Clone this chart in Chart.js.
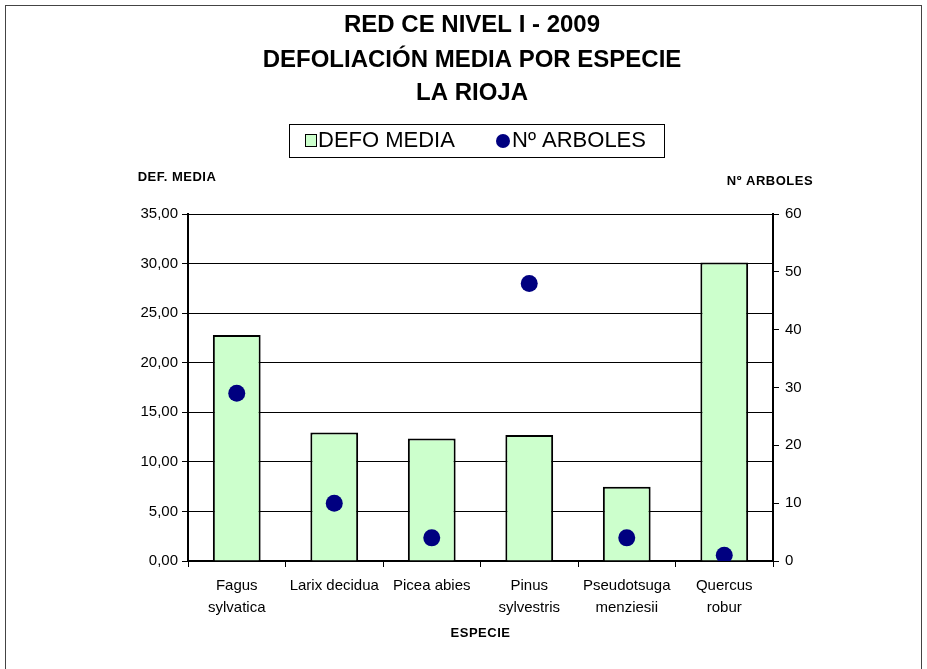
<!DOCTYPE html>
<html>
<head>
<meta charset="utf-8">
<script src="https://cdn.jsdelivr.net/npm/chart.js@4.4.1/dist/chart.umd.min.js"></script>
<style>
  body { margin: 0; background: #fff; }
  canvas { display: block; }
</style>
</head>
<body>
<canvas id="defoChart" width="927" height="669"></canvas>
<script>
const especies = [['Fagus', 'sylvatica'], 'Larix decidua', 'Picea abies', ['Pinus', 'sylvestris'], ['Pseudotsuga', 'menziesii'], ['Quercus', 'robur']];
const defoMedia = [22.8, 12.95, 12.35, 12.7, 7.5, 30.1];
const numArboles = [29, 10, 4, 48, 4, 1];
const titulo = ['RED CE NIVEL I - 2009', 'DEFOLIACIÓN MEDIA POR ESPECIE', 'LA RIOJA'];

const FONT = "'Liberation Sans', Arial, sans-serif";

// texts, frame and legend drawn around the chart area
const decorations = {
  id: 'decorations',
  beforeDraw(chart) {
    const ctx = chart.ctx;
    ctx.save();
    ctx.fillStyle = '#fff';
    ctx.fillRect(0, 0, chart.width, chart.height);
    ctx.restore();
  },
  afterDraw(chart) {
    const ctx = chart.ctx;
    const area = chart.chartArea;
    ctx.save();
    ctx.strokeStyle = '#444';
    ctx.lineWidth = 1;
    ctx.strokeRect(5.5, 5.5, 916, 700);

    ctx.fillStyle = '#000';
    ctx.textAlign = 'center';
    ctx.textBaseline = 'middle';
    ctx.letterSpacing = '0px';
    ctx.font = 'bold 24px ' + FONT;
    const ys = [25, 60, 93];
    titulo.forEach((t, i) => ctx.fillText(t, 472, ys[i]));

    // legend
    ctx.strokeStyle = '#000';
    ctx.strokeRect(289.5, 124.5, 375, 33);
    ctx.fillStyle = '#CCFFCC';
    ctx.fillRect(305, 134, 11, 12);
    ctx.strokeRect(305.5, 134.5, 11, 12);
    ctx.fillStyle = '#000';
    ctx.font = '22px ' + FONT;
    ctx.textAlign = 'left';
    ctx.fillText(chart.data.datasets[0].label, 318, 141);
    ctx.fillStyle = '#000080';
    ctx.beginPath();
    ctx.arc(503, 141, 7, 0, Math.PI * 2);
    ctx.fill();
    ctx.fillStyle = '#000';
    ctx.fillText(chart.data.datasets[1].label, 512, 141);

    // axis titles
    ctx.letterSpacing = '0.5px';
    ctx.font = 'bold 13px ' + FONT;
    ctx.textAlign = 'center';
    ctx.fillText('DEF. MEDIA', 177, 177);
    ctx.fillText('Nº ARBOLES', 770, 181);
    ctx.fillText('ESPECIE', (area.left + area.right) / 2, 633);
    ctx.restore();
  }
};

const canvas = document.getElementById('defoChart');
canvas.getContext('2d').letterSpacing = '0.6px';

new Chart(canvas, {
  type: 'bar',
  data: {
    labels: especies,
    datasets: [{
      label: 'DEFO MEDIA',
      data: defoMedia,
      backgroundColor: '#CCFFCC',
      borderColor: '#000',
      borderWidth: 2,
      barPercentage: 0.49,
      categoryPercentage: 1,
      yAxisID: 'y',
      order: 2
    }, {
      label: 'Nº ARBOLES',
      type: 'line',
      data: numArboles,
      showLine: false,
      pointRadius: 8.5,
      pointBackgroundColor: '#000080',
      pointBorderColor: '#000080',
      pointBorderWidth: 0,
      yAxisID: 'y1',
      order: 1
    }]
  },
  options: {
    responsive: false,
    animation: false,
    devicePixelRatio: 1,
    layout: { padding: { top: 214, left: 0, right: 0, bottom: 0 } },
    plugins: {
      legend: { display: false },
      title: { display: false },
      tooltip: { enabled: false }
    },
    scales: {
      x: {
        afterFit: s => { s.height = 108; },
        grid: { offset: true, drawOnChartArea: false, drawTicks: true, tickLength: 6, color: '#000' },
        border: { color: '#000', width: 2 },
        ticks: { color: '#000', padding: 8, maxRotation: 0, font: { family: FONT, size: 15, lineHeight: 1.47 } }
      },
      y: {
        position: 'left',
        min: 0,
        max: 35,
        afterFit: s => { s.width = 188; },
        grid: { color: '#000', lineWidth: 1, tickLength: 6 },
        border: { color: '#000', width: 2 },
        ticks: {
          stepSize: 5,
          padding: 4,
          color: '#000',
          font: { family: FONT, size: 15 },
          callback: v => v.toFixed(2).replace('.', ',')
        }
      },
      y1: {
        position: 'right',
        min: 0,
        max: 60,
        afterFit: s => { s.width = 154; },
        grid: { drawOnChartArea: false, color: '#000', tickLength: 6 },
        border: { color: '#000', width: 2 },
        ticks: { stepSize: 10, padding: 6, color: '#000', font: { family: FONT, size: 15 } }
      }
    }
  },
  plugins: [decorations]
});
</script>
</body>
</html>
